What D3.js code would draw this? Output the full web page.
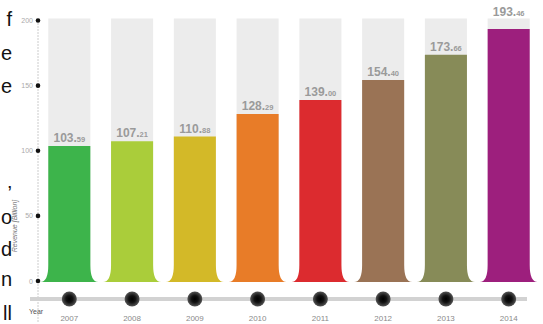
<!DOCTYPE html>
<html>
<head>
<meta charset="utf-8">
<script src="https://cdn.jsdelivr.net/npm/d3@7"></script>
<style>
  body { margin: 0; background: #fff; }
  svg { display: block; font-family: 'Liberation Sans', Arial, sans-serif; }
</style>
</head>
<body>
<div id="chart"></div>
<script>
var years = ['2007', '2008', '2009', '2010', '2011', '2012', '2013', '2014']
var revenue = [103.59, 107.21, 110.88, 128.29, 139.00, 154.40, 173.66, 193.46]
var colors = ['#3db44b', '#aacd3a', '#d3b928', '#e87c28', '#dc2b2f', '#9a7355', '#878b58', '#9d1f7d']
var yTicks = [0, 50, 100, 150, 200]
// bits of page text cut off at the left edge
var cutText = ['f', 'e', 'e', '’', 'o', 'd', 'n', 'll']
var cutBase = [26, 60, 93, 200, 224, 256, 286, 320]

var width = 543
var height = 324

var svg = d3.select('#chart')
  .append('svg')
  .attr('width', width)
  .attr('height', height)

var defs = svg.append('defs')
var grad = defs.append('radialGradient').attr('id', 'knob')
grad.append('stop').attr('offset', '0%').attr('stop-color', '#000')
grad.append('stop').attr('offset', '45%').attr('stop-color', '#111')
grad.append('stop').attr('offset', '100%').attr('stop-color', '#555')

var xScale = d3.scaleBand()
  .domain(years)
  .range([38, 540])
  .paddingInner(0.33)
  .paddingOuter(0.164)

var yScale = d3.scaleLinear()
  .domain([0, 200])
  .range([281, 20.5])

var baseY = 282
var flare = 8
var fillet = 17
var colTop = yScale(200) - 2

// gray columns behind
svg.selectAll('.col')
  .data(years)
  .enter()
  .append('rect')
  .attr('x', d => xScale(d))
  .attr('y', colTop)
  .attr('width', xScale.bandwidth())
  .attr('height', baseY - colTop)
  .attr('fill', '#ececec')

// coloured bars with flared feet
svg.selectAll('.bar')
  .data(revenue)
  .enter()
  .append('path')
  .attr('fill', (d, i) => colors[i])
  .attr('d', function(d, i) {
    var x0 = xScale(years[i])
    var x1 = x0 + xScale.bandwidth()
    var yt = yScale(d)
    return 'M' + (x0 - flare) + ',' + baseY +
      'Q' + x0 + ',' + baseY + ' ' + x0 + ',' + (baseY - fillet) +
      'L' + x0 + ',' + yt +
      'L' + x1 + ',' + yt +
      'L' + x1 + ',' + (baseY - fillet) +
      'Q' + x1 + ',' + baseY + ' ' + (x1 + flare) + ',' + baseY + 'Z'
  })

// value labels, decimals smaller
var labels = svg.selectAll('.val')
  .data(revenue)
  .enter()
  .append('text')
  .attr('x', (d, i) => xScale(years[i]) + xScale.bandwidth() / 2)
  .attr('y', function(d) {
    // no room inside the gray column: sit on top of it
    if (yScale(d) - 14 < colTop) return colTop - 3
    return yScale(d) - 4
  })
  .attr('text-anchor', 'middle')
  .attr('fill', '#9a9a9a')
  .attr('font-weight', 'bold')
labels.append('tspan')
  .attr('font-size', 12)
  .text(d => Math.floor(d) + '.')
labels.append('tspan')
  .attr('font-size', 7.5)
  .text(d => d.toFixed(2).split('.')[1])

// y axis: dotted line with dots
svg.append('line')
  .attr('x1', 38).attr('x2', 38)
  .attr('y1', yScale(200)).attr('y2', 322)
  .attr('stroke', '#999')
  .attr('stroke-dasharray', '1,2')

svg.selectAll('.tickdot')
  .data(yTicks)
  .enter()
  .append('circle')
  .attr('cx', 38)
  .attr('cy', d => yScale(d))
  .attr('r', 2.3)
  .attr('fill', '#111')

svg.selectAll('.ticklabel')
  .data(yTicks)
  .enter()
  .append('text')
  .attr('x', 33)
  .attr('y', d => yScale(d) + 2.5)
  .attr('text-anchor', 'end')
  .attr('font-size', 7)
  .attr('fill', '#aaa')
  .text(d => d)

svg.append('text')
  .attr('transform', 'translate(17,226) rotate(-90)')
  .attr('text-anchor', 'middle')
  .attr('font-size', 7)
  .attr('fill', '#777')
  .attr('font-style', 'italic')
  .text('Revenue [Billion]')

// timeline
svg.append('line')
  .attr('x1', 30).attr('x2', 527)
  .attr('y1', 299).attr('y2', 299)
  .attr('stroke', '#d2d2d2')
  .attr('stroke-width', 4)

svg.selectAll('.knob')
  .data(years)
  .enter()
  .append('circle')
  .attr('cx', d => xScale(d) + xScale.bandwidth() / 2)
  .attr('cy', 299)
  .attr('r', 7.5)
  .attr('fill', 'url(#knob)')

svg.selectAll('.year')
  .data(years)
  .enter()
  .append('text')
  .attr('x', d => xScale(d) + xScale.bandwidth() / 2)
  .attr('y', 321)
  .attr('text-anchor', 'middle')
  .attr('font-size', 8)
  .attr('fill', '#8a8a8a')
  .text(d => d)

svg.append('text')
  .attr('x', 29)
  .attr('y', 314)
  .attr('font-size', 7)
  .attr('fill', '#555')
  .text('Year')

// cut-off body text on the left
svg.selectAll('.cut')
  .data(cutText)
  .enter()
  .append('text')
  .attr('x', 12)
  .attr('y', (d, i) => cutBase[i])
  .attr('text-anchor', 'end')
  .attr('font-size', 20)
  .attr('fill', '#111')
  .text(d => d)
</script>
</body>
</html>
